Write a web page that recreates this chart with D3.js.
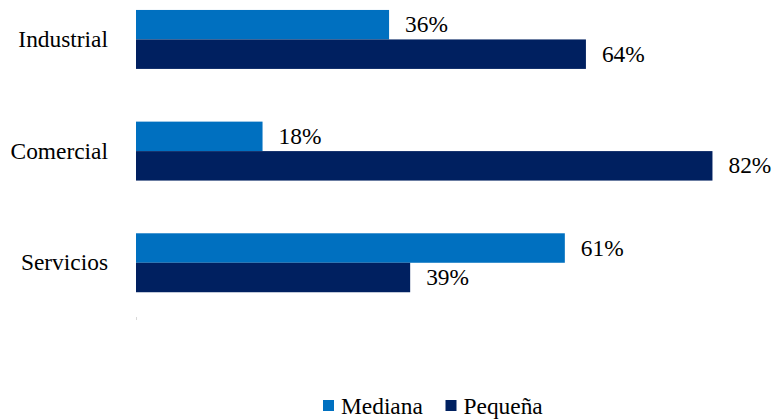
<!DOCTYPE html>
<html>
<head>
<meta charset="utf-8">
<script src="https://cdn.jsdelivr.net/npm/d3@7"></script>
</head>
<body style="margin:0">
<svg id="chart" width="775" height="419"></svg>
<script>
// Sectors and the share of each company size
const categories = ["Industrial", "Comercial", "Servicios"];
const seriesNames = ["Mediana", "Pequeña"];
const mediana = [36, 18, 61];
const pequena = [64, 82, 39];
const seriesColors = ["#0070C0", "#002060"];

const fontSize = 23.4;

const svg = d3.select("#chart");

const x = d3.scaleLinear().domain([0, 100]).range([136, 839]);

const y = d3.scaleBand()
  .domain(categories)
  .range([-16.4, 318.6])
  .paddingInner(0.472)
  .paddingOuter(0.236);

const ySub = d3.scaleBand()
  .domain(seriesNames)
  .range([0, y.bandwidth()]);

const rows = categories.map((c, i) => ({
  category: c,
  values: [
    { series: "Mediana", value: mediana[i] },
    { series: "Pequeña", value: pequena[i] }
  ]
}));
const flat = rows.flatMap(r => r.values.map(v => ({ category: r.category, ...v })));

const color = d3.scaleOrdinal().domain(seriesNames).range(seriesColors);

// Faint remnant of the value axis
svg.append("line")
  .attr("x1", x(0) + 0.5).attr("x2", x(0) + 0.5)
  .attr("y1", 317).attr("y2", 320)
  .attr("stroke", "#d9d9d9").attr("stroke-width", 1);

svg.selectAll("rect.bar")
  .data(flat)
  .join("rect")
  .attr("class", "bar")
  .attr("x", x(0))
  .attr("y", d => y(d.category) + ySub(d.series))
  .attr("width", d => x(d.value) - x(0))
  .attr("height", ySub.bandwidth())
  .attr("fill", d => color(d.series));

// Value labels
svg.selectAll("text.value")
  .data(flat)
  .join("text")
  .attr("class", "value")
  .attr("x", d => x(d.value) + 16)
  .attr("y", d => y(d.category) + ySub(d.series) + ySub.bandwidth() / 2 + 7.5)
  .attr("font-size", fontSize)
  .style("font-family", d => `"Liberation Serif"`)
  .text(d => d.value + "%");

// Category labels
svg.selectAll("text.cat")
  .data(categories)
  .join("text")
  .attr("class", "cat")
  .attr("x", 108)
  .attr("y", d => y(d) + y.bandwidth() / 2 + 7.5)
  .attr("text-anchor", "end")
  .attr("font-size", fontSize)
  .style("font-family", d => `"Liberation Serif"`)
  .text(d => d);

// Legend
const legendX = [323, 445.5];
svg.selectAll("rect.key")
  .data(seriesNames)
  .join("rect")
  .attr("class", "key")
  .attr("x", (d, i) => legendX[i])
  .attr("y", 400)
  .attr("width", 11).attr("height", 11)
  .attr("fill", d => color(d));

svg.selectAll("text.key")
  .data(seriesNames)
  .join("text")
  .attr("class", "key")
  .attr("x", (d, i) => legendX[i] + 18)
  .attr("y", 414)
  .attr("font-size", fontSize)
  .style("font-family", d => `"Liberation Serif"`)
  .text(d => d);
</script>
</body>
</html>
